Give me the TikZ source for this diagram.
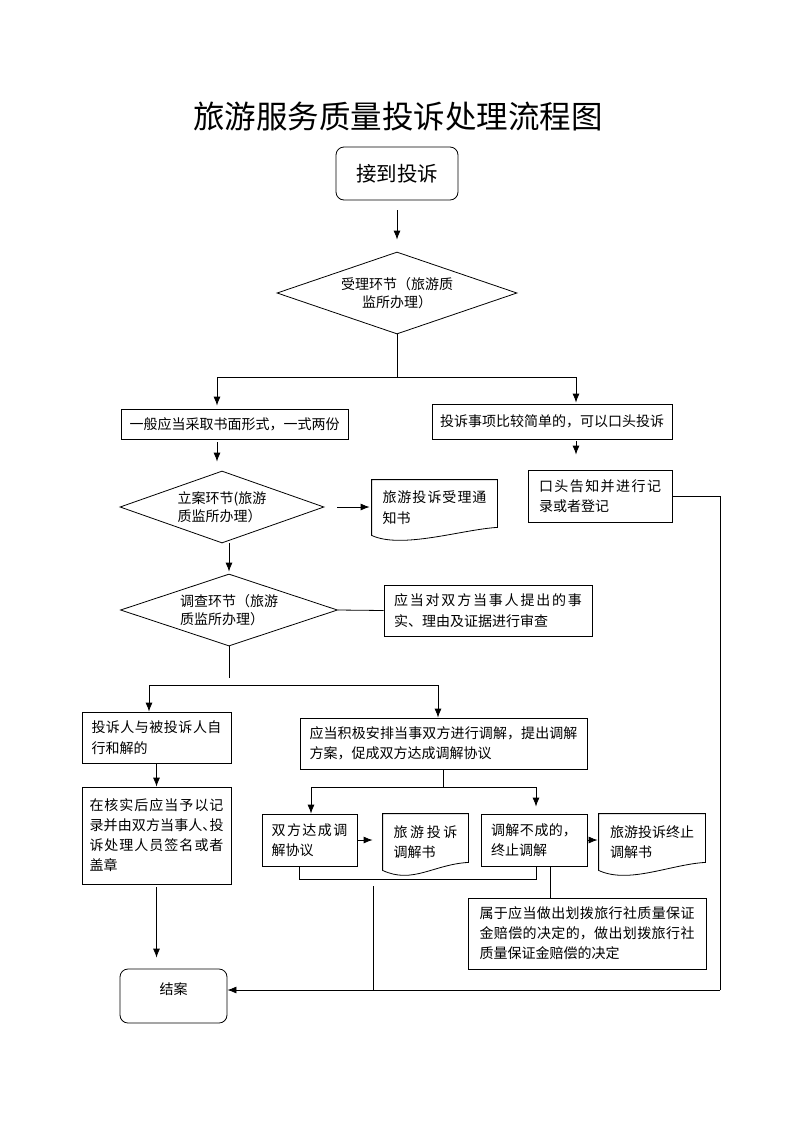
\documentclass[tikz,border=0pt]{standalone}
\usepackage{fontspec}
\setmainfont{Noto Sans CJK SC}
\XeTeXlinebreaklocale "zh"
\XeTeXlinebreakskip=0pt plus 5pt
\usetikzlibrary{arrows.meta,shapes.geometric,calc}

% outline of a document symbol round a node
\newcommand{\docshape}[1]{%
  \draw[-] (#1.north west) -- (#1.south west)
    .. controls +(30,14) and +(-35,2) .. ([yshift=8pt]#1.south east)
    -- (#1.north east) -- cycle;}

\begin{document}
\begin{tikzpicture}[x=1pt,y=-1pt,->,>={Latex[length=9pt,width=7pt]},thick,font=\fontsize{14}{20.5}\selectfont]
	\tikzstyle{box}=[draw,rectangle,inner sep=0pt]
	\tikzstyle{para}=[align=justify]
	\tikzstyle{term}=[box,rounded corners=8pt]
	\tikzstyle{dia}=[draw,diamond,inner sep=0pt,font=\fontsize{14}{17.7}\selectfont]
	\tikzstyle{doc}=[rectangle,inner sep=0pt,align=justify]

	\useasboundingbox (0,0) rectangle (793,1122);

	\node[font=\fontsize{31.5}{36}\selectfont] (title) at (398,117) {旅游服务质量投诉处理流程图};

	\node[term,minimum width=122pt,minimum height=53pt,font=\fontsize{20.5}{24}\selectfont] (start) at (397,173.5) {接到投诉};
	\node[dia,aspect=2.9,minimum width=240pt,minimum height=82pt,align=center] (d1) at (397,293) {受理环节（旅游质\\监所办理）};
	\node[box,minimum width=227pt,minimum height=30pt] (b1) at (234.5,424) {一般应当采取书面形式，一式两份};
	\node[box,minimum width=240pt,minimum height=35pt] (b2) at (552,421.5) {投诉事项比较简单的，可以口头投诉};
	\node[dia,aspect=2.8,minimum width=204pt,minimum height=72pt,align=left] (d2) at (222,507) {立案环节(旅游\\质监所办理）};
	\node[doc,text width=104pt,minimum width=125pt,minimum height=55pt] (n1) at (434.5,507.5) {旅游投诉受理通\linebreak 知书};
	\node[box,para,text width=122pt,minimum width=144pt,minimum height=52pt] (b3) at (600,496) {口头告知并进行记\linebreak 录或者登记};
	\node[dia,aspect=3,minimum width=217pt,minimum height=72pt,align=left] (d3) at (229,610) {调查环节（旅游\\质监所办理）};
	\node[box,para,text width=188pt,minimum width=208pt,minimum height=51pt] (b4) at (488,610.5) {应当对双方当事人提出的事\linebreak 实、理由及证据进行审查};
	\node[box,para,text width=130pt,minimum width=149pt,minimum height=51pt] (b5) at (156.5,737.5) {投诉人与被投诉人自\linebreak 行和解的};
	\node[box,para,text width=268pt,minimum width=287pt,minimum height=51pt] (b6) at (443.5,743.5) {应当积极安排当事双方进行调解，提出调解\linebreak 方案，促成双方达成调解协议};
	\node[box,para,text width=134pt,minimum width=149pt,minimum height=97pt,font=\fontsize{14}{20}\selectfont] (b7) at (156.5,835.5) {在核实后应当予以记\linebreak 录并由双方当事人\makebox[7pt][l]{、}投\linebreak 诉处理人员签名或者\linebreak 盖章};
	\node[box,para,text width=76pt,minimum width=95pt,minimum height=52pt] (b8) at (309.5,840) {双方达成调\linebreak 解协议};
	\node[doc,text width=64pt,minimum width=85pt,minimum height=56pt] (n2) at (425.5,842) {旅游投诉\linebreak 调解书};
	\node[box,para,text width=86pt,minimum width=106pt,minimum height=52pt] (b9) at (534,840) {调解不成的，\linebreak 终止调解};
	\node[doc,text width=84pt,minimum width=106pt,minimum height=56pt] (n3) at (652,842) {旅游投诉终止\linebreak 调解书};
	\node[box,para,text width=215pt,minimum width=238pt,minimum height=71pt,font=\fontsize{14}{20}\selectfont] (b10) at (587,933.5) {属于应当做出划拨旅行社质量保证\linebreak 金赔偿的决定的，做出划拨旅行社\linebreak 质量保证金赔偿的决定};
	\node[term,minimum width=107pt,minimum height=54pt,text depth=14pt] (end) at (173.5,996) {结案};

	\docshape{n1}
	\docshape{n2}
	\docshape{n3}

	\coordinate (a1) at (217,377);
	\coordinate (a2) at (576,377);
	\coordinate (a3) at (149,685);
	\coordinate (a4) at (438,685);
	\coordinate (a5) at (311,787);
	\coordinate (a6) at (536,787);
	\coordinate (u1) at (299,879);
	\coordinate (u2) at (536,879);
	\coordinate (c1) at (550,870);
	\coordinate (c2) at (720,990);
	\coordinate (c3) at (373,886);

	\draw[shorten <=10pt,shorten >=12pt] (start) -- (d1);
	\draw[-] (d1.south) -- (d1.south |- a1);
	\draw[-] (a1) -- (a2);
	\draw[shorten >=3pt] (a1) -- (a1 |- b1.north);
	\draw[shorten >=1pt] (a2) -- (a2 |- b2.north);
	\draw[shorten <=3pt,shorten >=9pt] (a1 |- b1.south) -- (a1 |- d2.north);
	\draw[shorten <=2pt,shorten >=15pt] (a2 |- b2.south) -- (a2 |- b3.north);
	\draw[shorten <=13pt,shorten >=2pt] (d2.east) -- (d2.east -| n1.west);
	\draw[shorten >=2pt] (d3.north |- d2.south) -- (d3.north);
	\draw[-] (d3.east) -- (b4.west);
	\draw[-,shorten >=7pt] (d3.south) -- (d3.south |- a3);
	\draw[-] (a3) -- (a4);
	\draw (a3) -- (a3 |- b5.north);
	\draw (a4) -- (a4 |- b6.north);
	\draw (b5.south) -- (b7.north);
	\draw[shorten <=3pt,shorten >=11pt] (b7.south) -- (b7.south |- end.north);
	\draw[-] (b6.south) -- (b6.south |- a5);
	\draw[-] (a5) -- (a6);
	\draw (a5) -- (a5 |- b8.north);
	\draw[shorten >=7pt] (a6) -- (a6 |- b9.north);
	\draw[shorten >=10pt] (b8.east) -- (b8.east -| n2.west);
	\draw[shorten >=1pt] (b9.east) -- (b9.east -| n3.west);
	\draw[-] (u1 |- b8.south) -- (u1) -- (u2) -- (u2 |- b9.south);
	\draw[-] (c1 |- b9.south) -- (c1 |- b10.north);
	\draw[-] (b3.east) -| (c2);
	\draw[-] (c3) -- (c3 |- c2);
	\draw (c2) -- (c2 -| end.east);
\end{tikzpicture}
\end{document}
